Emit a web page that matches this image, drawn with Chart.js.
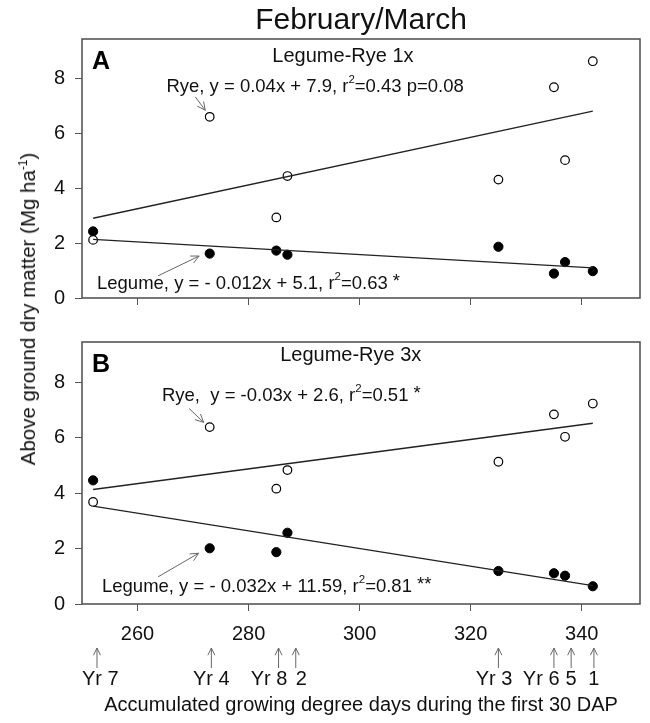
<!DOCTYPE html>
<html>
<head>
<meta charset="utf-8">
<script src="https://cdn.jsdelivr.net/npm/chart.js@4.4.0/dist/chart.umd.min.js"></script>
<style>
  body { margin: 0; background: #fff; }
  #wrap { position: relative; width: 650px; height: 723px; overflow: hidden; }
  #cA { position: absolute; left: 0; top: 0; }
  #cB { position: absolute; left: 0; top: 320px; }
  #ylab {
    position: absolute; left: 28px; top: 309px;
    transform: translate(-50%, -50%) rotate(-90deg);
    white-space: nowrap; color: #111;
    font: 20.5px "Liberation Sans", Arial, sans-serif;
  }
  #ylab sup { font-size: 12px; vertical-align: 8px; line-height: 0; }
</style>
</head>
<body>
<div id="wrap">
  <canvas id="cA" width="650" height="320"></canvas>
  <canvas id="cB" width="650" height="403"></canvas>
  <div id="ylab">Above ground dry matter (Mg ha<sup>-1</sup>)</div>
</div>
<script>
// accumulated GDD of each year (x) and dry matter values (Mg/ha)
const gdd = [252, 273, 285, 287, 325, 335, 337, 342];
const ryeA = [2.12, 6.61, 2.94, 4.45, 4.32, 7.69, 5.03, 8.64];
const legumeA = [2.43, 1.62, 1.73, 1.58, 1.87, 0.89, 1.31, 0.98];
const ryeB = [3.68, 6.38, 4.16, 4.83, 5.13, 6.84, 6.03, 7.23];
const legumeB = [4.46, 2.01, 1.87, 2.57, 1.19, 1.11, 1.02, 0.64];

// regression line end points
const fitX = [252, 342];
const ryeFitA = [2.91, 6.82];
const legumeFitA = [2.14, 1.10];
const ryeFitB = [4.13, 6.52];
const legumeFitB = [3.53, 0.66];

const xTicks = [260, 280, 300, 320, 340];
const yTicks = [0, 2, 4, 6, 8];

// year markers under the x axis
const yearX = [252.7, 273.3, 285.4, 288.5, 325, 335, 338.1, 342.2];
const yearLabelX = [253.3, 273.3, 283.7, 289.5, 324.2, 332.7, 338.1, 342.2];
const yearLabels = ['Yr 7', 'Yr 4', 'Yr 8', '2', 'Yr 3', 'Yr 6', '5', '1'];

const FONT = '"Liberation Sans", Arial, sans-serif';
const TXT = '#111';
const GREY = '#555';

function toXY(xs, ys) {
  return xs.map((v, i) => ({x: v, y: ys[i]}));
}

// '^' marks a superscript piece, '*' pieces are lifted a little
function drawRich(ctx, parts, px, py, size) {
  let cx = px;
  parts.forEach(p => {
    const sup = p.startsWith('^');
    const star = p.startsWith('*');
    const t = sup ? p.slice(1) : p;
    ctx.font = (sup ? size * 0.62 : size) + 'px ' + FONT;
    ctx.fillText(t, cx, sup ? py - size * 0.38 : (star ? py - 2 : py));
    cx += ctx.measureText(t).width;
  });
}

function drawArrow(ctx, x1, y1, x2, y2, head) {
  const ang = Math.atan2(y2 - y1, x2 - x1);
  ctx.beginPath();
  ctx.moveTo(x1, y1);
  ctx.lineTo(x2, y2);
  ctx.moveTo(x2 - head * Math.cos(ang - 0.45), y2 - head * Math.sin(ang - 0.45));
  ctx.lineTo(x2, y2);
  ctx.lineTo(x2 - head * Math.cos(ang + 0.45), y2 - head * Math.sin(ang + 0.45));
  ctx.stroke();
}

const panelDecor = {
  id: 'panelDecor',
  afterDraw(chart, args, opts) {
    const {ctx, chartArea: a} = chart;
    const sx = chart.scales.x, sy = chart.scales.y;
    const px = v => sx.getPixelForValue(v);
    const py = v => sy.getPixelForValue(v);
    ctx.save();
    // frame round the plot
    ctx.strokeStyle = GREY;
    ctx.lineWidth = 1.6;
    ctx.strokeRect(a.left, a.top, a.right - a.left, a.bottom - a.top);

    ctx.fillStyle = '#000';
    ctx.textBaseline = 'middle';
    ctx.textAlign = 'left';
    ctx.font = 'bold 25px ' + FONT;
    ctx.fillText(opts.letter, px(opts.letterAt[0]), py(opts.letterAt[1]));

    ctx.fillStyle = TXT;
    ctx.textAlign = 'center';
    ctx.font = '20px ' + FONT;
    ctx.fillText(opts.heading, px(opts.headingAt[0]), py(opts.headingAt[1]));

    ctx.textAlign = 'left';
    opts.notes.forEach(n => {
      drawRich(ctx, n.parts, px(n.at[0]), py(n.at[1]), 18.5);
      ctx.strokeStyle = '#666';
      ctx.lineWidth = 1;
      drawArrow(ctx, px(n.arrow[0]), py(n.arrow[1]), px(n.arrow[2]), py(n.arrow[3]), 9);
    });

    if (opts.years) {
      ctx.strokeStyle = '#666';
      ctx.lineWidth = 1;
      yearX.forEach(v => drawArrow(ctx, px(v), a.bottom + 64, px(v), a.bottom + 44, 8));
      ctx.fillStyle = TXT;
      ctx.textAlign = 'center';
      ctx.font = '20px ' + FONT;
      yearLabels.forEach((t, i) => ctx.fillText(t, px(yearLabelX[i]), a.bottom + 75));
    }
    ctx.restore();
  }
};

function panel(canvasId, rye, legume, ryeFit, legumeFit, decor, last) {
  return new Chart(document.getElementById(canvasId), {
    type: 'scatter',
    data: {
      datasets: [
        { type: 'line', data: toXY(fitX, ryeFit), borderColor: '#222', borderWidth: 1.3, pointRadius: 0 },
        { type: 'line', data: toXY(fitX, legumeFit), borderColor: '#222', borderWidth: 1.3, pointRadius: 0 },
        { label: 'Rye', data: toXY(gdd, rye), pointRadius: 4.3, pointBackgroundColor: '#fff',
          pointBorderColor: '#000', pointBorderWidth: 1.2 },
        { label: 'Legume', data: toXY(gdd, legume), pointRadius: 4.6, pointBackgroundColor: '#000',
          pointBorderColor: '#000', pointBorderWidth: 1 }
      ]
    },
    options: {
      responsive: false,
      animation: false,
      layout: { padding: { top: last ? 8 : 0, right: 10, left: 0, bottom: 0 } },
      plugins: {
        legend: { display: false },
        tooltip: { enabled: false },
        title: {
          display: !last,
          text: 'February/March',
          fullSize: false,
          color: TXT,
          font: { family: FONT, size: 30, weight: 'normal', lineHeight: 1.1 },
          padding: { top: 4, bottom: 2 }
        },
        panelDecor: decor
      },
      scales: {
        x: {
          type: 'linear', min: 250, max: 350.5,
          afterBuildTicks: s => { s.ticks = xTicks.map(v => ({value: v})); },
          afterFit: s => { s.height = last ? 119 : 7; },
          grid: { drawOnChartArea: false, drawTicks: true, tickLength: 7, color: GREY },
          border: { display: false },
          ticks: { display: last, color: TXT, padding: 11, font: { family: FONT, size: 20 } },
          title: {
            display: last,
            text: 'Accumulated growing degree days during the first 30 DAP',
            color: TXT,
            font: { family: FONT, size: 20 },
            padding: { top: 0, bottom: 6 }
          }
        },
        y: {
          min: 0, max: 9.45,
          afterBuildTicks: s => { s.ticks = yTicks.map(v => ({value: v})); },
          afterFit: s => { s.width = 82; },
          grid: { drawOnChartArea: false, drawTicks: true, tickLength: 7, color: GREY },
          border: { display: false },
          ticks: { color: TXT, padding: 10, font: { family: FONT, size: 20 } }
        }
      }
    },
    plugins: [panelDecor]
  });
}

panel('cA', ryeA, legumeA, ryeFitA, legumeFitA, {
  letter: 'A', letterAt: [251.8, 8.61],
  heading: 'Legume-Rye 1x', headingAt: [297, 8.8],
  notes: [
    { parts: ['Rye, y = 0.04x + 7.9, r', '^2', '=0.43 p=0.08'], at: [265.2, 7.72],
      arrow: [270.4, 7.34, 272.2, 6.85] },
    { parts: ['Legume, y = - 0.012x + 5.1, r', '^2', '=0.63 ', '*'], at: [252.7, 0.52],
      arrow: [263.7, 0.81, 271.1, 1.53] }
  ]
}, false);

panel('cB', ryeB, legumeB, ryeFitB, legumeFitB, {
  letter: 'B', letterAt: [251.8, 8.61],
  heading: 'Legume-Rye 3x', headingAt: [298.4, 8.95],
  years: true,
  notes: [
    { parts: ['Rye,  y = -0.03x + 2.6, r', '^2', '=0.51 ', '*'], at: [264.4, 7.49],
      arrow: [269.3, 7.05, 271.9, 6.55] },
    { parts: ['Legume, y = - 0.032x + 11.59, r', '^2', '=0.81 ', '**'], at: [253.6, 0.6],
      arrow: [263.7, 0.98, 271, 1.83] }
  ]
}, true);
</script>
</body>
</html>
